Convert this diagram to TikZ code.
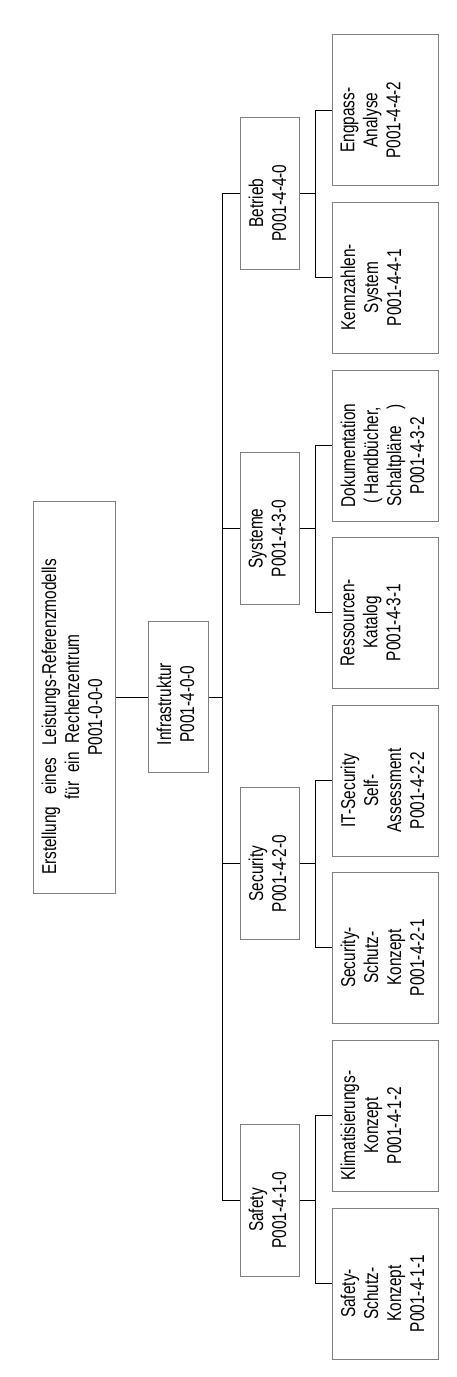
\documentclass[tikz,border=0pt]{standalone}
\usepackage{fontspec}
\setmainfont{Liberation Sans}[FakeStretch=0.77]
\definecolor{boxgray}{RGB}{128,128,128}
\newcommand\bx[7]{% name, cx, cy, w, h, shift, text
  \node[box, minimum width=#4pt, minimum height=#5pt] (#1) at (#2,#3) {};
  \node[lbl] (#1t) at ([xshift=9pt,yshift=-#6pt]#1.west) {#7};}
\begin{document}
\begin{tikzpicture}[x=1pt,y=-1pt,
  box/.style={draw=boxgray, line width=1pt, inner sep=0pt, rectangle},
  lbl/.style={rotate=90, anchor=north, inner sep=0pt, align=center,
    font=\fontsize{20}{23}\selectfont},
  conn/.style={draw=black, line width=1pt}]
\fill[white] (0,0) rectangle (457,1377);
\useasboundingbox (0,0) rectangle (457,1377);
% root and level 1
\bx{root}{74}{697}{82}{392}{20}{Erstellung\hspace{12pt}eines\hspace{12pt}Leistungs-Referenzmodells\\für\hspace{9pt}ein\hspace{9pt}Rechenzentrum\\P001-0-0-0}
\bx{infra}{178}{697}{60}{151}{7}{Infrastruktur\\P001-4-0-0}
% level 2
\bx{betrieb}{269.5}{193}{59}{152}{10}{Betrieb\\P001-4-4-0}
\bx{systeme}{269.5}{528.5}{59}{152}{10}{Systeme\\P001-4-3-0}
\bx{security}{269.5}{863.5}{59}{152}{10}{Security\\P001-4-2-0}
\bx{safety}{269.5}{1200}{59}{152}{10}{Safety\\P001-4-1-0}
% level 3
\bx{engpass}{385}{110}{106}{151}{10}{Engpass-\\Analyse\\P001-4-4-2}
\bx{kenn}{385}{277.5}{106}{151}{10}{Kennzahlen-\\System\\P001-4-4-1}
\bx{doku}{385}{445.5}{106}{151}{10}{Dokumentation\\( Handbücher,\\Schaltpläne\hspace{16pt})\\P001-4-3-2}
\bx{ress}{385}{612.5}{106}{151}{10}{Ressourcen-\\Katalog\\P001-4-3-1}
\bx{itsec}{385}{780.5}{106}{151}{10}{IT-Security\\Self-\\Assessment\\P001-4-2-2}
\bx{secsch}{385}{947.5}{106}{151}{10}{Security-\\Schutz-\\Konzept\\P001-4-2-1}
\bx{klima}{385}{1115.5}{106}{151}{10}{Klimatisierungs-\\Konzept\\P001-4-1-2}
\bx{safsch}{385}{1283.5}{106}{151}{10}{Safety-\\Schutz-\\Konzept\\P001-4-1-1}
% connectors
\coordinate (mb) at (222,697);
\coordinate (gb) at (315,0);
\draw[conn] (root.east) -- (infra.west);
\draw[conn] (infra.east) -- (mb);
\draw[conn] (betrieb.west) -- (betrieb.west -| mb) -- (safety.west -| mb) -- (safety.west);
\draw[conn] (systeme.west) -- (systeme.west -| mb);
\draw[conn] (security.west) -- (security.west -| mb);
\draw[conn] (betrieb.east) -- (betrieb.east -| gb);
\draw[conn] (engpass.west) -- (engpass.west -| gb) -- (kenn.west -| gb) -- (kenn.west);
\draw[conn] (systeme.east) -- (systeme.east -| gb);
\draw[conn] (doku.west) -- (doku.west -| gb) -- (ress.west -| gb) -- (ress.west);
\draw[conn] (security.east) -- (security.east -| gb);
\draw[conn] (itsec.west) -- (itsec.west -| gb) -- (secsch.west -| gb) -- (secsch.west);
\draw[conn] (safety.east) -- (safety.east -| gb);
\draw[conn] (klima.west) -- (klima.west -| gb) -- (safsch.west -| gb) -- (safsch.west);
\end{tikzpicture}
\end{document}
